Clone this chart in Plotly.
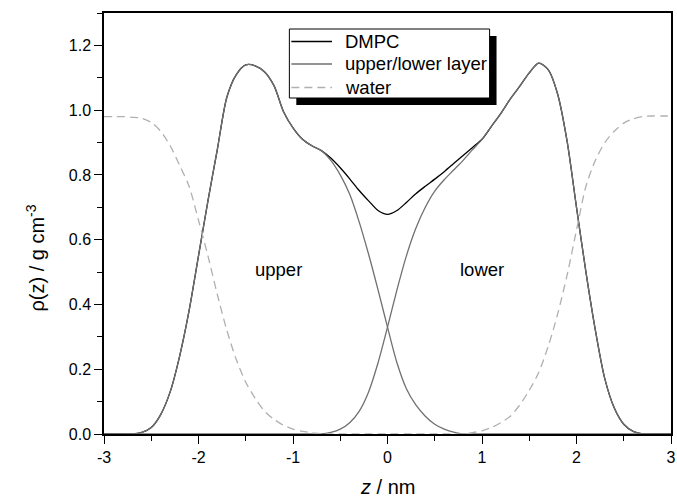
import plotly.graph_objects as go

# Sampling positions along the bilayer normal (nm)
z_nm = [-3.0, -2.9, -2.8, -2.7, -2.6, -2.5, -2.4, -2.3, -2.2, -2.1,
        -2.0, -1.9, -1.8, -1.7, -1.6, -1.5, -1.4, -1.3, -1.2, -1.1,
        -1.0, -0.9, -0.8, -0.7, -0.6, -0.5, -0.4, -0.3, -0.2, -0.1,
        0.0,
        0.1, 0.2, 0.3, 0.4, 0.5, 0.6, 0.7, 0.8, 0.9, 1.0,
        1.1, 1.2, 1.3, 1.4, 1.5, 1.6, 1.7, 1.8, 1.9, 2.0,
        2.1, 2.2, 2.3, 2.4, 2.5, 2.6, 2.7, 2.8, 2.9, 3.0]

# Density profiles (g cm^-3)
dmpc = [0, 0, 0, 0, 0.005, 0.02, 0.06, 0.13, 0.24, 0.38,
        0.55, 0.72, 0.88, 1.04, 1.11, 1.14, 1.137, 1.118, 1.075, 0.995,
        0.945, 0.91, 0.89, 0.875, 0.852, 0.822, 0.788, 0.752, 0.72, 0.69,
        0.678,
        0.69, 0.715, 0.742, 0.765, 0.787, 0.81, 0.835, 0.86, 0.885, 0.91,
        0.95, 0.99, 1.035, 1.074, 1.115, 1.145, 1.125, 1.05, 0.905, 0.70,
        0.50, 0.32, 0.17, 0.08, 0.03, 0.008, 0, 0, 0, 0]

upper_layer = [0, 0, 0, 0, 0.005, 0.02, 0.06, 0.13, 0.24, 0.38,
               0.55, 0.72, 0.88, 1.04, 1.11, 1.14, 1.137, 1.118, 1.075, 0.995,
               0.945, 0.91, 0.89, 0.875, 0.845, 0.80, 0.74, 0.655, 0.555, 0.445,
               0.33,
               0.22, 0.14, 0.09, 0.055, 0.03, 0.015, 0.006, 0, 0, 0,
               0, 0, 0, 0, 0, 0, 0, 0, 0, 0,
               0, 0, 0, 0, 0, 0, 0, 0, 0, 0]

lower_layer = [0, 0, 0, 0, 0, 0, 0, 0, 0, 0,
               0, 0, 0, 0, 0, 0, 0, 0, 0, 0,
               0, 0, 0, 0, 0.005, 0.015, 0.035, 0.07, 0.13, 0.22,
               0.33,
               0.445, 0.55, 0.635, 0.70, 0.75, 0.785, 0.815, 0.845, 0.878, 0.91,
               0.95, 0.99, 1.035, 1.074, 1.115, 1.145, 1.125, 1.05, 0.905, 0.70,
               0.50, 0.32, 0.17, 0.08, 0.03, 0.008, 0, 0, 0, 0]

water = [0.98, 0.98, 0.98, 0.978, 0.975, 0.962, 0.935, 0.89, 0.83, 0.765,
         0.66, 0.55, 0.43, 0.32, 0.23, 0.16, 0.11, 0.07, 0.045, 0.027,
         0.015, 0.008, 0.004, 0.001, 0, 0, 0, 0, 0, 0,
         0,
         0, 0, 0, 0, 0, 0, 0, 0, 0.004, 0.01,
         0.02, 0.035, 0.055, 0.09, 0.135, 0.19, 0.27, 0.37, 0.49, 0.63,
         0.765, 0.845, 0.90, 0.935, 0.96, 0.973, 0.98, 0.982, 0.982, 0.982]

x_ticks = [-3, -2, -1, 0, 1, 2, 3]
x_tick_text = ["-3", "-2", "-1", "0", "1", "2", "3"]
x_minor = [-2.5, -1.5, -0.5, 0.5, 1.5, 2.5]
y_ticks = [0.0, 0.2, 0.4, 0.6, 0.8, 1.0, 1.2]
y_tick_text = ["0.0", "0.2", "0.4", "0.6", "0.8", "1.0", "1.2"]
y_minor = [0.1, 0.3, 0.5, 0.7, 0.9, 1.1, 1.3]

legend_labels = ["DMPC", "upper/lower layer", "water"]

FONT = "Arial, Liberation Sans, sans-serif"
W, H = 677, 498
ML, MR, MT, MB = 104, 1, 13, 64
PW, PH = W - ML - MR, H - MT - MB

LAYER_GREY = "#707070"
WATER_GREY = "#b0b0b0"
WATER_DASH = "8px,5px"


def px_x(p):
    return (p - ML) / PW


def px_y(p):
    return (H - MB - p) / PH


fig = go.Figure()
fig.add_trace(go.Scatter(x=z_nm, y=dmpc, mode="lines", name=legend_labels[0],
                         line=dict(color="black", width=1.3, shape="spline", smoothing=0.8)))
fig.add_trace(go.Scatter(x=z_nm, y=upper_layer, mode="lines", name="upper layer",
                         line=dict(color=LAYER_GREY, width=1.3, shape="spline", smoothing=0.8)))
fig.add_trace(go.Scatter(x=z_nm, y=lower_layer, mode="lines", name="lower layer",
                         line=dict(color=LAYER_GREY, width=1.3, shape="spline", smoothing=0.8)))
fig.add_trace(go.Scatter(x=z_nm, y=water, mode="lines", name=legend_labels[2],
                         line=dict(color=WATER_GREY, width=1.3, dash=WATER_DASH,
                                   shape="spline", smoothing=0.8)))

axis_common = dict(showgrid=False, zeroline=False, showline=True, linecolor="black",
                   linewidth=1.5, mirror=True, ticks="outside", ticklen=8, tickwidth=1.3,
                   tickcolor="black", ticklabeloverflow="allow",
                   tickfont=dict(family=FONT, size=16, color="black"))

fig.update_xaxes(range=[-3, 3], tickmode="array", tickvals=x_ticks, ticktext=x_tick_text,
                 minor=dict(tickmode="array", tickvals=x_minor, ticks="outside", ticklen=5,
                            tickwidth=1.3, tickcolor="black"),
                 **axis_common)
fig.update_yaxes(range=[0, 1.3], tickmode="array", tickvals=y_ticks, ticktext=y_tick_text,
                 minor=dict(tickmode="array", tickvals=y_minor, ticks="outside", ticklen=5,
                            tickwidth=1.3, tickcolor="black"),
                 **axis_common)

LABEL_SIZE = 18.5
annotations = [
    dict(x=-1.15, y=0.507, xref="x", yref="y", text="upper", showarrow=False,
         font=dict(family=FONT, size=LABEL_SIZE, color="black")),
    dict(x=1.0, y=0.507, xref="x", yref="y", text="lower", showarrow=False,
         font=dict(family=FONT, size=LABEL_SIZE, color="black")),
    dict(x=px_x(34), y=px_y(258), xref="paper", yref="paper", text="ρ(z) / g cm<sup>-3</sup>",
         textangle=-90, showarrow=False, xanchor="center", yanchor="middle",
         font=dict(family=FONT, size=20, color="black")),
    dict(x=0.5, y=px_y(487), xref="paper", yref="paper", text="<i>z</i> / nm",
         showarrow=False, xanchor="center", yanchor="middle",
         font=dict(family=FONT, size=20, color="black")),
]

# Legend box (drawn by hand): shadow, frame, line samples, labels
box_l, box_t, box_r, box_b = 291, 29, 493, 98
shadow = 7
shapes = [
    dict(type="rect", xref="paper", yref="paper",
         x0=px_x(box_l + shadow), x1=px_x(box_r + shadow),
         y0=px_y(box_b + shadow), y1=px_y(box_t + shadow),
         fillcolor="black", line=dict(width=0), layer="above"),
    dict(type="rect", xref="paper", yref="paper",
         x0=px_x(box_l), x1=px_x(box_r), y0=px_y(box_b), y1=px_y(box_t),
         fillcolor="white", line=dict(color="black", width=1), layer="above"),
]
row_y = [41.5, 64, 87.5]
sample_styles = [dict(color="black", width=1.3),
                 dict(color=LAYER_GREY, width=1.3),
                 dict(color=WATER_GREY, width=1.3, dash=WATER_DASH)]
for label, ry, style in zip(legend_labels, row_y, sample_styles):
    shapes.append(dict(type="line", xref="paper", yref="paper",
                       x0=px_x(293), x1=px_x(334), y0=px_y(ry), y1=px_y(ry),
                       line=style, layer="above"))
    annotations.append(dict(x=px_x(345), y=px_y(ry), xref="paper", yref="paper",
                            text=label, showarrow=False, xanchor="left", yanchor="middle",
                            font=dict(family=FONT, size=LABEL_SIZE, color="black")))

fig.update_layout(
    width=W, height=H,
    margin=dict(l=ML, r=MR, t=MT, b=MB),
    paper_bgcolor="white", plot_bgcolor="white",
    font=dict(family=FONT, size=16, color="black"),
    showlegend=False,
    annotations=annotations,
    shapes=shapes,
)

fig.write_html("out.html")
